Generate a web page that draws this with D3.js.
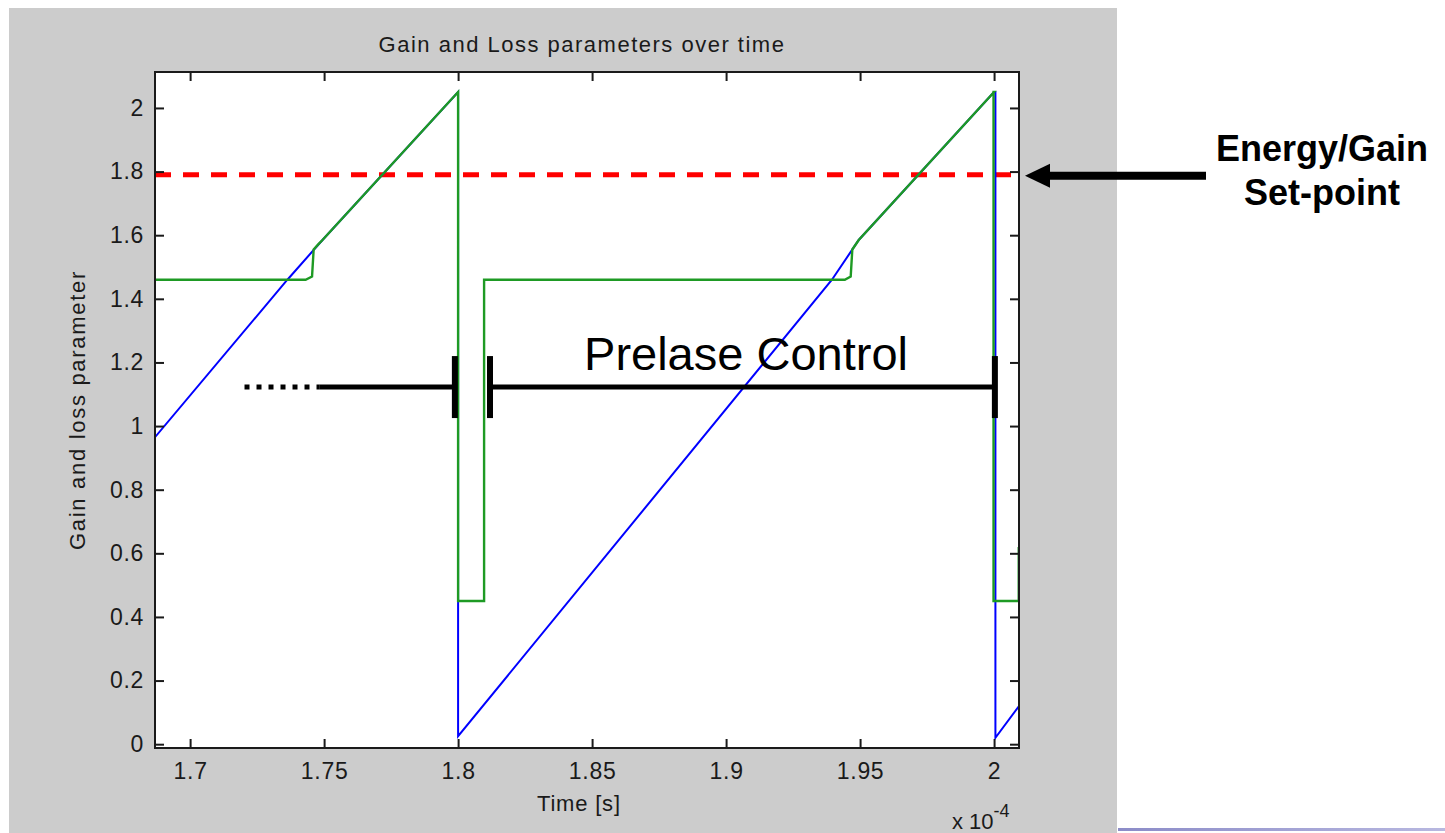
<!DOCTYPE html>
<html>
<head>
<meta charset="utf-8">
<script src="https://cdn.jsdelivr.net/npm/d3@7"></script>
<style>
  html, body { margin: 0; padding: 0; background: #ffffff; }
  svg { display: block; }
  text { font-family: "Liberation Sans", Arial, sans-serif; }
</style>
</head>
<body>
<svg id="chart" width="1445" height="833"></svg>
<script>
// ---------------- data ----------------
const title = "Gain and Loss parameters over time";
const xLabel = "Time [s]";
const yLabel = "Gain and loss parameter";
const xTicks = [1.7, 1.75, 1.8, 1.85, 1.9, 1.95, 2.0];
const xTickLabels = ["1.7", "1.75", "1.8", "1.85", "1.9", "1.95", "2"];
const yTicks = [0, 0.2, 0.4, 0.6, 0.8, 1, 1.2, 1.4, 1.6, 1.8, 2];
const yTickLabels = ["0", "0.2", "0.4", "0.6", "0.8", "1", "1.2", "1.4", "1.6", "1.8", "2"];
const xDomain = [1.6869, 2.0093];
const yDomain = [-0.012, 2.113];

// gain (blue) : [time x1e-4, value]
const gainSeries = [
  [1.6869, 0.965], [1.7363, 1.46], [1.7494, 1.585], [1.8, 2.05],
  [1.8, 0.025], [1.9395, 1.46], [1.9495, 1.585], [2.0, 2.05],
  [2.0005, 2.05], [2.0005, 0.02], [2.0093, 0.12]
];
// loss (green)
const lossSeries = [
  [1.6869, 1.46], [1.7431, 1.46], [1.7455, 1.47], [1.7461, 1.555], [1.7478, 1.571], [1.7494, 1.585],
  [1.8, 2.05], [1.8, 0.45], [1.8097, 0.45], [1.8097, 1.46],
  [1.9443, 1.46], [1.9465, 1.47], [1.9471, 1.555], [1.9483, 1.57], [1.9495, 1.585],
  [2.0, 2.05], [1.9998, 2.05], [1.9998, 0.45], [2.0092, 0.45], [2.0092, 0.62]
];
const setPoint = 1.79;
const setPointLabel = ["Energy/Gain", "Set-point"];

// "Prelase Control" annotation (data coords)
const prelaseLabel = "Prelase Control";
const prelaseY = 1.1226;
const prelaseDotted = [1.7203, 1.7484];
const prelaseSolid1 = [1.7484, 1.7988];
const prelaseSolid2 = [1.8119, 2.0003];
const prelaseBars = [1.7988, 1.8119, 2.0003];

// ---------------- layout ----------------
const svg = d3.select("#chart");
const plot = { left: 155, top: 72, right: 1019, bottom: 748 };
const x = d3.scaleLinear().domain(xDomain).range([plot.left, plot.right]);
const y = d3.scaleLinear().domain(yDomain).range([plot.bottom, plot.top]);
const ink = "#1a1a1a";

// figure background
svg.append("rect").attr("x", 9).attr("y", 8).attr("width", 1108).attr("height", 825).attr("fill", "#cccccc");
// faint line at bottom right
const grad = svg.append("defs").append("linearGradient").attr("id", "lg");
grad.append("stop").attr("offset", "0%").attr("stop-color", "#8c8cc8");
grad.append("stop").attr("offset", "100%").attr("stop-color", "#b8b8e0");
svg.append("rect").attr("x", 1118).attr("y", 828).attr("width", 327).attr("height", 3).attr("fill", "url(#lg)");

// axes background
svg.append("rect").attr("x", plot.left).attr("y", plot.top)
  .attr("width", plot.right - plot.left).attr("height", plot.bottom - plot.top).attr("fill", "#ffffff");

// clip
svg.append("clipPath").attr("id", "clip").append("rect")
  .attr("x", plot.left).attr("y", plot.top)
  .attr("width", plot.right - plot.left).attr("height", plot.bottom - plot.top);

const g = svg.append("g").attr("clip-path", "url(#clip)");
const line = d3.line().x(d => x(d[0])).y(d => y(d[1]));

// set-point dashed
g.append("line").attr("x1", x(xDomain[0])).attr("x2", x(2.0075))
  .attr("y1", y(setPoint)).attr("y2", y(setPoint))
  .attr("stroke", "#ff0000").attr("stroke-width", 5).attr("stroke-dasharray", "16,12");

g.append("path").datum(gainSeries).attr("d", line)
  .attr("fill", "none").attr("stroke", "#0000ff").attr("stroke-width", 2);
g.append("path").datum(lossSeries).attr("d", line)
  .attr("fill", "none").attr("stroke", "#1e9a24").attr("stroke-width", 2.4);

// axes box
svg.append("rect").attr("x", plot.left).attr("y", plot.top)
  .attr("width", plot.right - plot.left).attr("height", plot.bottom - plot.top)
  .attr("fill", "none").attr("stroke", ink).attr("stroke-width", 2);

// axes with inward ticks
const tickLen = 9;
const xAxisB = d3.axisBottom(x).tickValues(xTicks).tickSize(-tickLen).tickPadding(15)
  .tickFormat((d, i) => xTickLabels[i]);
const xAxisT = d3.axisTop(x).tickValues(xTicks).tickSize(-tickLen).tickFormat("");
const yAxisL = d3.axisLeft(y).tickValues(yTicks).tickSize(-tickLen).tickPadding(11)
  .tickFormat((d, i) => yTickLabels[i]);
const yAxisR = d3.axisRight(y).tickValues(yTicks).tickSize(-tickLen).tickFormat("");

function style(sel) {
  sel.select(".domain").remove();
  sel.selectAll(".tick line").attr("stroke", ink).attr("stroke-width", 2);
  sel.selectAll(".tick text").attr("fill", ink).attr("font-size", 23).attr("letter-spacing", 0.7)
    .attr("font-family", "'Liberation Sans', Arial, sans-serif");
}
svg.append("g").attr("transform", `translate(0,${plot.bottom})`).call(xAxisB).call(style);
svg.append("g").attr("transform", `translate(0,${plot.top})`).call(xAxisT).call(style);
svg.append("g").attr("transform", `translate(${plot.left},0)`).call(yAxisL).call(style);
svg.append("g").attr("transform", `translate(${plot.right},0)`).call(yAxisR).call(style);

// titles
svg.append("text").attr("x", 582).attr("y", 52)
  .attr("text-anchor", "middle").attr("font-size", 22).attr("letter-spacing", 1.5).attr("fill", ink).text(title);
svg.append("text").attr("x", 537).attr("y", 811)
  .attr("text-anchor", "start").attr("font-size", 22).attr("letter-spacing", 0.8).attr("fill", ink).text(xLabel);
svg.append("text").attr("transform", `translate(85,${(plot.top + plot.bottom) / 2}) rotate(-90)`)
  .attr("text-anchor", "middle").attr("font-size", 22).attr("letter-spacing", 1.7).attr("fill", ink).text(yLabel);
const ex = svg.append("text").attr("x", 952).attr("y", 829).attr("font-size", 22).attr("fill", ink);
ex.append("tspan").text("x 10");
ex.append("tspan").attr("dy", -12).attr("font-size", 18).text("-4");

// Prelase Control annotation
const py = y(prelaseY);
svg.append("line").attr("x1", x(prelaseDotted[0])).attr("x2", x(prelaseDotted[1]))
  .attr("y1", py).attr("y2", py).attr("stroke", "#000").attr("stroke-width", 5).attr("stroke-dasharray", "5,7");
[prelaseSolid1, prelaseSolid2].forEach(s => {
  svg.append("line").attr("x1", x(s[0])).attr("x2", x(s[1])).attr("y1", py).attr("y2", py)
    .attr("stroke", "#000").attr("stroke-width", 5);
});
prelaseBars.forEach(b => {
  svg.append("line").attr("x1", x(b)).attr("x2", x(b)).attr("y1", py - 31).attr("y2", py + 31)
    .attr("stroke", "#000").attr("stroke-width", 6);
});
svg.append("text").attr("x", 746).attr("y", 370).attr("text-anchor", "middle")
  .attr("font-size", 47).attr("fill", "#000").text(prelaseLabel);

// Energy/Gain set-point arrow
const sy = y(setPoint);
svg.append("line").attr("x1", 1206).attr("x2", 1045).attr("y1", sy + 1).attr("y2", sy + 1)
  .attr("stroke", "#000").attr("stroke-width", 8);
svg.append("path").attr("d", `M1025,${sy + 1} L1050,${sy - 11} L1050,${sy + 13} Z`).attr("fill", "#000");
setPointLabel.forEach((t, i) => {
  svg.append("text").attr("x", 1322).attr("y", 161 + i * 44).attr("text-anchor", "middle")
    .attr("font-size", 36).attr("font-weight", "bold").attr("fill", "#000").text(t);
});
</script>
</body>
</html>
